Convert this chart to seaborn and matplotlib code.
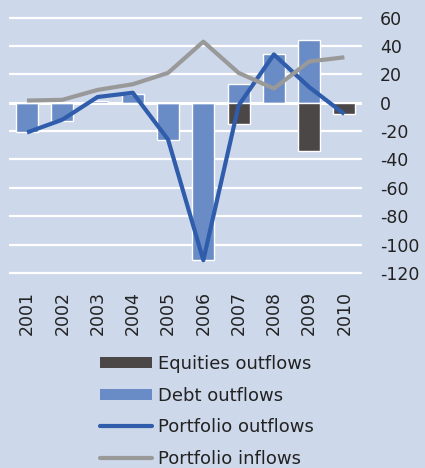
import numpy as np
import pandas as pd
import matplotlib
matplotlib.use("Agg")
import matplotlib.pyplot as plt
import seaborn as sns
from matplotlib.patches import Patch
from matplotlib.lines import Line2D

years = ["2001", "2002", "2003", "2004", "2005", "2006", "2007", "2008", "2009", "2010"]
equities_out = [0, 0, 0, 0, 0, 0, -15, 0, -34, -8]
debt_out = [-21, -13, 1.5, 6, -26, -111, 13, 34, 44, 0]
portfolio_out = [-21, -12, 4, 7, -26, -111, -2, 34, 11, -8]
portfolio_in = [1.5, 2, 9, 13, 21, 43, 21, 10, 29, 32]

bg = "#CDD8EA"
c_eq = "#4B4746"
c_debt = "#6A8CC6"
c_out = "#2F5DAB"
c_in = "#999999"

df = pd.DataFrame({"year": years, "equities": equities_out, "debt": debt_out,
                   "out": portfolio_out, "inflow": portfolio_in})
df["pos"] = np.arange(len(df))

sns.set_style("white")
plt.rcParams["font.family"] = ["DejaVu Sans"]
plt.rcParams["axes.unicode_minus"] = False

fig = plt.figure(figsize=(4.25, 4.68), dpi=100, facecolor=bg)
W, H = 425, 468
ax = fig.add_axes([9.4 / W, 1 - 275.8 / H, (362 - 9.4) / W, (275.8 - 14.7) / H])
ax.set_facecolor(bg)

# gridlines first
for v in range(-120, 61, 20):
    ax.axhline(v, color="white", lw=2.2 if v == 0 else 1.6, zorder=0)

sns.barplot(data=df, x="year", y="debt", color=c_debt, width=0.62, saturation=1,
            ax=ax, zorder=2)
sns.barplot(data=df, x="year", y="equities", color=c_eq, width=0.62, saturation=1,
            ax=ax, zorder=2)
sns.lineplot(data=df, x="pos", y="out", color=c_out, lw=3, ax=ax, zorder=3,
             solid_capstyle="butt")
sns.lineplot(data=df, x="pos", y="inflow", color=c_in, lw=3, ax=ax, zorder=4,
             solid_capstyle="butt")

ax.set_xlim(-0.5, 9.5)
ax.set_ylim(-122, 62)
ax.set_yticks(range(-120, 61, 20))
ax.yaxis.tick_right()
ax.tick_params(axis="y", length=0, pad=13, labelsize=12.5, labelcolor="#222222")
for lab in ax.get_yticklabels():
    lab.set_horizontalalignment("left")
ax.set_xticks(range(len(years)))
ax.set_xticklabels(years, rotation=90)
ax.tick_params(axis="x", length=0, pad=11, labelsize=12.5, labelcolor="#222222")
ax.set_xlabel("")
ax.set_ylabel("")
for s in ax.spines.values():
    s.set_visible(False)

handles = [Patch(facecolor=c_eq, edgecolor="none"),
           Patch(facecolor=c_debt, edgecolor="none"),
           Line2D([0], [0], color=c_out, lw=3, solid_capstyle="round"),
           Line2D([0], [0], color=c_in, lw=3, solid_capstyle="round")]
labels = ["Equities outflows", "Debt outflows", "Portfolio outflows", "Portfolio inflows"]
fig.legend(handles, labels, loc="upper left", bbox_to_anchor=(100 / W, 1 - 355 / H),
           frameon=False, fontsize=13, handlelength=2.9, handleheight=0.6,
           handletextpad=0.3, labelspacing=0.76, borderpad=0, borderaxespad=0,
           labelcolor="#222222")

fig.savefig("out.png", dpi=100, facecolor=bg)
